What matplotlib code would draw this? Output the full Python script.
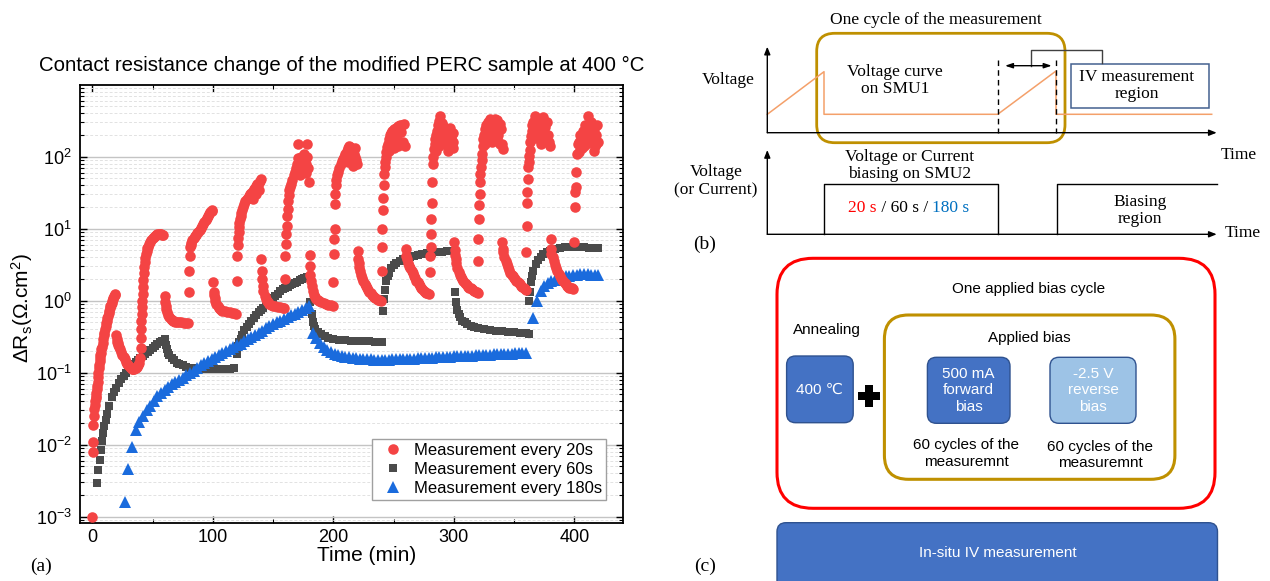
import matplotlib
matplotlib.use("Agg")
import matplotlib.pyplot as plt
import matplotlib.ticker as mticker
from matplotlib.patches import FancyBboxPatch, Rectangle
import numpy as np

plt.rcParams["font.family"] = ["Liberation Sans", "DejaVu Sans"]
plt.rcParams["mathtext.fontset"] = "custom"
plt.rcParams["mathtext.rm"] = "Liberation Sans"
plt.rcParams["mathtext.it"] = "Liberation Sans:italic"
plt.rcParams["mathtext.bf"] = "Liberation Sans:bold"
plt.rcParams["axes.unicode_minus"] = False

# ---------------------------------------------------------------- data
# Measurement every 20 s (forward / reverse bias cycles of 20 min)
red_time = [
    # 0-20 forward
    0.0, 0.33, 0.67, 1.0, 1.33, 1.67, 2.0, 2.33, 2.67, 3.0, 3.33, 3.67, 4.0, 4.33, 4.67, 5.0,
    5.33, 5.67, 6.0, 6.33, 6.67, 7.0, 7.5, 8.0, 8.5, 9.0, 9.5, 10.0, 10.5, 11.0, 11.5, 12.0,
    12.5, 13.0, 13.5, 14.0, 14.5, 15.0, 15.5, 16.0, 16.5, 17.0, 17.5, 18.0, 18.5, 19.0,
    # 20-40 reverse
    20.0, 20.33, 20.67, 21.0, 21.5, 22.0, 23.0, 24.0, 25.0, 26.0, 27.0, 28.0, 29.0, 30.0,
    31.0, 32.0, 33.0, 34.0, 35.0, 36.0, 37.0, 38.0, 39.0,
    # 40-60 forward
    40.0, 40.2, 40.4, 40.6, 40.8, 41.0, 41.2, 41.4, 41.7, 42.0, 42.4, 42.8, 43.2, 43.6, 44.0,
    44.5, 45.0, 45.5, 46.0, 47.0, 48.0, 49.0, 50.0, 51.0, 52.0, 53.0, 54.0, 55.0, 56.0, 57.0,
    58.0, 59.0,
    # 60-80 reverse
    60.3, 60.7, 61.0, 61.5, 62.0, 63.0, 64.0, 65.0, 66.0, 67.0, 68.0, 69.0, 70.0, 72.0, 74.0,
    76.0, 78.0, 79.5,
    # 80-100 forward
    80.0, 80.33, 80.67, 81.0, 81.5, 82.0, 83.0, 84.0, 85.0, 86.0, 87.0, 88.0, 89.0, 90.0, 91.0,
    92.0, 93.0, 94.0, 95.0, 96.0, 97.0, 98.0, 99.0, 99.7,
    # 100-120 reverse
    100.3, 100.7, 101.0, 101.5, 102.0, 103.0, 104.0, 105.0, 106.0, 107.0, 108.0, 110.0, 112.0,
    114.0, 116.0, 118.0, 119.5,
    # 120-140 forward
    120.0, 120.33, 120.67, 121.0, 121.33, 121.67, 122.0, 122.5, 123.0, 123.5, 124.0, 125.0,
    126.0, 127.0, 128.0, 129.0, 130.0, 131.0, 132.0, 133.0, 134.0, 135.0, 136.0, 137.0, 138.0,
    139.0, 140.0, 133.0, 136.0, 138.5,
    # 140-160 reverse
    140.3, 140.67, 141.0, 141.5, 142.0, 143.0, 144.0, 145.0, 146.0, 147.0, 148.0, 150.0, 152.0,
    154.0, 156.0, 158.0, 159.5,
    # 160-180 forward
    160.0, 160.33, 160.67, 161.0, 161.33, 161.67, 162.0, 162.5, 163.0, 163.5, 164.0, 165.0,
    166.0, 167.0, 168.0, 169.0, 170.0, 170.5, 171.0, 172.0, 173.0, 174.0, 175.0, 176.0, 177.0,
    178.0, 178.5, 179.0, 179.5, 172.5, 175.5, 177.5,
    # 180-200 reverse
    180.3, 180.67, 181.0, 181.5, 182.0, 183.0, 184.0, 185.0, 186.0, 187.0, 188.0, 190.0, 192.0,
    194.0, 196.0, 198.0, 199.5,
    # 200-220 forward
    200.0, 200.33, 200.67, 201.0, 201.33, 201.67, 202.0, 202.5, 203.0, 204.0, 205.0, 206.0,
    207.0, 208.0, 209.0, 210.0, 211.0, 212.0, 213.0, 214.0, 215.0, 216.0, 217.0, 218.0, 219.0,
    219.5, 212.0, 214.0, 216.0, 218.0,
    # 220-240 reverse
    220.3, 220.67, 221.0, 221.5, 222.0, 223.0, 224.0, 225.0, 226.0, 227.0, 228.0, 229.0, 230.0,
    231.0, 232.0, 233.0, 234.0, 235.0, 236.0, 237.0, 238.0, 239.5,
    # 240-260 forward
    240.0, 240.33, 240.67, 241.0, 241.33, 241.67, 242.0, 242.5, 243.0, 243.5, 244.0, 244.5,
    245.0, 246.0, 247.0, 248.0, 249.0, 250.0, 251.0, 252.0, 253.0, 254.0, 255.0, 256.0, 257.0,
    258.0, 259.0, 259.5, 246.0, 248.0, 250.0, 252.0, 254.0,
    # 260-280 reverse
    260.3, 260.67, 261.0, 262.0, 263.0, 264.0, 265.0, 266.0, 267.0, 268.0, 269.0, 270.0, 271.0,
    272.0, 273.0, 274.0, 275.0, 276.0, 277.0, 278.0, 279.0,
    # 280-300 forward
    280.0, 280.33, 280.67, 281.0, 281.33, 281.67, 282.0, 282.5, 283.0, 283.5, 284.0, 284.5,
    285.0, 286.0, 287.0, 288.0, 288.5, 289.0, 290.0, 291.0, 292.0, 293.0, 294.0, 295.0, 296.0,
    297.0, 298.0, 299.0, 299.7, 285.5, 287.5, 289.5, 291.5, 293.5, 295.5, 297.5, 299.3,
    # 300-320 reverse
    300.3, 300.67, 301.0, 301.5, 302.0, 303.0, 304.0, 305.0, 306.0, 307.0, 308.0, 309.0, 310.0,
    311.0, 312.0, 313.0, 314.0, 315.0, 316.0, 317.0, 318.0, 319.0, 319.7,
    # 320-340 forward
    320.0, 320.33, 320.67, 321.0, 321.33, 321.67, 322.0, 322.5, 323.0, 323.5, 324.0, 324.5,
    325.0, 326.0, 327.0, 328.0, 329.0, 330.0, 331.0, 332.0, 333.0, 334.0, 335.0, 336.0, 337.0,
    338.0, 339.0, 340.0, 340.5, 326.0, 328.0, 330.0, 332.0, 334.0, 336.0, 338.0,
    # 340-360 reverse
    340.3, 340.67, 341.0, 342.0, 343.0, 344.0, 345.0, 346.0, 347.0, 348.0, 349.0, 350.0, 351.0,
    352.0, 353.0, 354.0, 355.0, 356.0, 357.0, 358.0, 359.0, 359.7,
    # 360-380 forward
    360.0, 360.33, 360.67, 361.0, 361.33, 361.67, 362.0, 362.5, 363.0, 363.5, 364.0, 364.5,
    365.0, 366.0, 367.0, 368.0, 369.0, 370.0, 371.0, 372.0, 373.0, 374.0, 375.0, 376.0, 377.0,
    378.0, 379.0, 379.7, 366.0, 368.0, 370.0, 372.0, 374.0, 376.0,
    # 380-400 reverse
    380.3, 380.67, 381.0, 382.0, 383.0, 384.0, 385.0, 386.0, 387.0, 388.0, 389.0, 390.0, 391.0,
    392.0, 393.0, 394.0, 395.0, 396.0, 397.0, 398.0, 399.0,
    # 400-420 forward
    400.0, 400.33, 400.67, 401.0, 401.33, 402.0, 403.0, 404.0, 405.0, 406.0, 407.0, 408.0,
    409.0, 410.0, 411.0, 412.0, 413.0, 414.0, 415.0, 416.0, 417.0, 418.0, 419.0, 419.5,
    404.0, 406.0, 408.0, 410.0, 412.0, 414.0, 416.0, 418.0,
]
red_dr = [
    0.001, 0.008, 0.011, 0.019, 0.025, 0.031, 0.036, 0.040, 0.044, 0.048, 0.053, 0.060, 0.066,
    0.074, 0.086, 0.10, 0.115, 0.128, 0.145, 0.16, 0.175, 0.19, 0.21, 0.23, 0.26, 0.29, 0.33,
    0.36, 0.40, 0.44, 0.49, 0.53, 0.57, 0.62, 0.67, 0.72, 0.78, 0.83, 0.88, 0.93, 0.98, 1.04,
    1.10, 1.15, 1.20, 1.25,
    0.33, 0.29, 0.27, 0.26, 0.245, 0.23, 0.21, 0.193, 0.178, 0.165, 0.153, 0.143, 0.134, 0.127,
    0.121, 0.116, 0.113, 0.112, 0.113, 0.116, 0.121, 0.128, 0.138,
    0.16, 0.22, 0.30, 0.40, 0.52, 0.66, 0.82, 1.0, 1.25, 1.55, 1.95, 2.4, 2.9, 3.4, 3.9, 4.4,
    4.9, 5.3, 5.6, 6.1, 6.6, 7.0, 7.4, 7.7, 7.9, 8.1, 8.3, 8.4, 8.4, 8.3, 8.2, 8.1,
    1.15, 0.95, 0.85, 0.76, 0.70, 0.63, 0.59, 0.56, 0.54, 0.53, 0.52, 0.51, 0.505, 0.50, 0.50,
    0.495, 0.49, 0.485,
    1.3, 2.6, 4.2, 5.6, 6.0, 6.4, 6.9, 7.3, 7.8, 8.2, 8.6, 9.0, 9.6, 10.2, 10.9, 11.6, 12.4,
    13.2, 14.0, 15.0, 15.8, 16.8, 17.6, 18.0,
    1.8, 1.3, 1.2, 1.1, 1.0, 0.9, 0.84, 0.80, 0.77, 0.75, 0.73, 0.71, 0.70, 0.69, 0.68, 0.67,
    0.66,
    1.9, 4.2, 6.0, 7.5, 9.0, 10.5, 12.0, 13.5, 15.0, 16.5, 18.0, 20.0, 22.0, 24.0, 25.5, 27.0,
    28.5, 30.0, 31.5, 33.0, 35.0, 37.0, 39.0, 41.0, 43.0, 46.0, 49.0, 26.0, 30.0, 34.0,
    3.8, 2.6, 2.0, 1.6, 1.35, 1.15, 1.05, 1.0, 0.95, 0.91, 0.88, 0.85, 0.83, 0.82, 0.81, 0.80,
    0.80,
    2.0, 4.2, 6.1, 8.4, 11.0, 15.0, 19.0, 24.0, 29.0, 34.0, 38.0, 42.0, 47.0, 55.0, 62.0, 70.0,
    80.0, 150.0, 95.0, 85.0, 100.0, 75.0, 90.0, 110.0, 60.0, 150.0, 100.0, 70.0, 45.0, 55.0,
    65.0, 80.0,
    4.3, 3.0, 2.3, 1.9, 1.6, 1.35, 1.2, 1.12, 1.07, 1.03, 1.0, 0.96, 0.93, 0.90, 0.88, 0.86,
    0.85,
    1.8, 4.4, 7.2, 10.0, 22.0, 30.0, 40.0, 48.0, 55.0, 62.0, 70.0, 78.0, 86.0, 92.0, 100.0,
    110.0, 120.0, 130.0, 140.0, 135.0, 125.0, 115.0, 110.0, 100.0, 90.0, 80.0, 85.0, 95.0, 75.0,
    130.0,
    4.9, 3.8, 3.3, 2.9, 2.6, 2.3, 2.05, 1.85, 1.7, 1.58, 1.48, 1.40, 1.32, 1.26, 1.20, 1.15,
    1.11, 1.08, 1.05, 1.03, 1.01, 1.0,
    2.6, 5.5, 10.0, 18.0, 27.0, 40.0, 58.0, 71.0, 85.0, 100.0, 115.0, 135.0, 150.0, 175.0,
    200.0, 215.0, 230.0, 240.0, 180.0, 250.0, 200.0, 265.0, 270.0, 220.0, 275.0, 160.0, 280.0,
    140.0, 120.0, 150.0, 130.0, 165.0, 140.0,
    5.2, 4.2, 3.8, 3.3, 3.0, 2.8, 2.6, 2.4, 2.2, 2.05, 1.9, 1.8, 1.7, 1.6, 1.52, 1.45, 1.38,
    1.33, 1.29, 1.26, 1.23,
    2.5, 4.2, 5.5, 8.4, 13.6, 23.0, 44.0, 79.0, 100.0, 128.0, 150.0, 177.0, 200.0, 230.0, 270.0,
    310.0, 370.0, 250.0, 290.0, 180.0, 260.0, 150.0, 230.0, 200.0, 140.0, 250.0, 180.0, 210.0,
    160.0, 120.0, 140.0, 160.0, 220.0, 200.0, 120.0, 170.0, 130.0,
    6.5, 5.0, 4.3, 3.8, 3.3, 2.8, 2.5, 2.25, 2.1, 1.97, 1.87, 1.78, 1.70, 1.63, 1.57, 1.52,
    1.48, 1.44, 1.40, 1.37, 1.34, 1.31, 1.29,
    3.6, 7.2, 13.6, 21.0, 30.0, 44.0, 58.0, 71.0, 90.0, 110.0, 140.0, 177.0, 200.0, 240.0,
    270.0, 300.0, 200.0, 330.0, 250.0, 300.0, 180.0, 330.0, 260.0, 320.0, 200.0, 280.0, 240.0,
    150.0, 128.0, 150.0, 170.0, 190.0, 160.0, 220.0, 180.0, 150.0,
    6.5, 5.2, 4.7, 4.0, 3.5, 3.2, 2.9, 2.65, 2.45, 2.3, 2.17, 2.07, 1.98, 1.90, 1.83, 1.76,
    1.69, 1.62, 1.56, 1.50, 1.44, 1.40,
    4.7, 11.0, 23.0, 32.0, 49.0, 71.0, 85.0, 102.0, 125.0, 158.0, 190.0, 230.0, 270.0, 300.0,
    370.0, 250.0, 330.0, 280.0, 200.0, 310.0, 230.0, 355.0, 180.0, 260.0, 300.0, 200.0, 160.0,
    141.0, 200.0, 180.0, 220.0, 150.0, 250.0, 190.0,
    7.2, 5.2, 4.5, 4.0, 3.5, 3.1, 2.8, 2.55, 2.35, 2.2, 2.07, 1.95, 1.85, 1.76, 1.68, 1.61,
    1.55, 1.52, 1.50, 1.48, 1.47,
    6.6, 20.0, 32.0, 38.0, 62.0, 110.0, 150.0, 115.0, 200.0, 170.0, 230.0, 140.0, 270.0, 200.0,
    370.0, 250.0, 160.0, 300.0, 180.0, 240.0, 140.0, 200.0, 270.0, 160.0,
    160.0, 130.0, 210.0, 150.0, 190.0, 220.0, 120.0, 150.0,
]

# Measurement every 60 s (cycles of 60 min)
gray_time = [
    4, 5, 6, 7, 8, 9, 10, 11, 12, 14, 16, 18, 20, 22, 24, 26, 28, 30, 32, 34, 36, 38, 40, 42,
    44, 46, 48, 50, 52, 54, 56, 58, 60,
    61, 62, 63, 64, 66, 68, 70, 72, 75, 78, 81, 84, 87, 90, 94, 98, 102, 106, 110, 114, 118,
    120, 121, 122, 123, 124, 126, 128, 130, 132, 134, 136, 138, 140, 142, 144, 146, 148, 150,
    152, 154, 156, 158, 160, 162, 164, 166, 168, 170, 172, 174, 176, 178,
    181, 182, 183, 184, 185, 187, 190, 193, 196, 200, 205, 210, 215, 220, 225, 230, 235, 240,
    241, 242, 243, 244, 245, 246, 248, 250, 252, 255, 258, 261, 264, 267, 270, 274, 278, 282,
    286, 290, 294, 298,
    301, 302, 303, 304, 305, 307, 309, 311, 314, 317, 320, 325, 330, 335, 340, 345, 350, 355,
    360, 362,
    362.5, 363.3, 364, 365, 366, 368, 370, 372, 374, 377, 380, 384, 388, 392, 396, 400, 404,
    408, 412, 416, 420,
]
gray_dr = [
    0.0029, 0.0044, 0.0062, 0.0085, 0.0112, 0.0145, 0.018, 0.022, 0.027, 0.035, 0.046, 0.054,
    0.062, 0.071, 0.081, 0.091, 0.10, 0.11, 0.12, 0.132, 0.141, 0.151, 0.162, 0.172, 0.182,
    0.195, 0.209, 0.221, 0.234, 0.251, 0.263, 0.279, 0.295,
    0.24, 0.21, 0.19, 0.178, 0.158, 0.148, 0.138, 0.132, 0.126, 0.12, 0.117, 0.115, 0.114,
    0.112, 0.112, 0.112, 0.113, 0.113, 0.114, 0.114, 0.115,
    0.18, 0.235, 0.265, 0.295, 0.33, 0.39, 0.43, 0.48, 0.53, 0.58, 0.64, 0.69, 0.74, 0.80,
    0.86, 0.93, 1.0, 1.08, 1.16, 1.25, 1.35, 1.43, 1.50, 1.57, 1.63, 1.68, 1.75, 1.83, 1.92,
    2.0, 2.08, 2.15,
    0.95, 0.65, 0.50, 0.44, 0.41, 0.37, 0.34, 0.32, 0.305, 0.295, 0.285, 0.28, 0.277, 0.275,
    0.273, 0.272, 0.27, 0.27,
    0.71, 1.05, 1.4, 1.9, 2.2, 2.45, 2.85, 3.1, 3.3, 3.55, 3.75, 3.9, 4.05, 4.2, 4.3, 4.45,
    4.55, 4.65, 4.75, 4.8, 4.85, 4.9,
    1.3, 0.95, 0.75, 0.65, 0.59, 0.53, 0.50, 0.47, 0.45, 0.43, 0.42, 0.40, 0.39, 0.38, 0.375,
    0.37, 0.365, 0.36, 0.355, 0.35,
    1.0, 1.3, 1.8, 2.2, 2.6, 3.2, 3.7, 4.1, 4.4, 4.7, 4.95, 5.2, 5.4, 5.5, 5.55, 5.55, 5.55,
    5.5, 5.45, 5.4, 5.35,
]

# Measurement every 180 s (cycles of 180 min)
blue_time = [
    27, 30, 33, 36, 39, 42, 45, 48, 51, 54, 57, 60, 63, 66, 69, 72, 75, 78, 81, 84, 87, 90, 93,
    96, 99, 102, 105, 108, 111, 114, 117, 120, 123, 126, 129, 132, 135, 138, 141, 144, 147, 150,
    153, 156, 159, 162, 165, 168, 171, 174, 177, 180,
    183, 186, 189, 192, 195, 198, 201, 204, 207, 210, 213, 216, 219, 222, 225, 228, 231, 234,
    237, 240, 243, 246, 249, 252, 255, 258, 261, 264, 267, 270, 273, 276, 279, 282, 285, 288,
    291, 294, 297, 300, 303, 306, 309, 312, 315, 318, 321, 324, 327, 330, 333, 336, 339, 342,
    345, 348, 351, 354, 357, 360,
    366, 369, 372, 375, 378, 381, 384, 387, 390, 393, 396, 399, 402, 405, 408, 411, 414, 417,
    420,
]
blue_dr = [
    0.0016, 0.0046, 0.0093, 0.0158, 0.0204, 0.0251, 0.030, 0.0347, 0.0407, 0.0468, 0.0525,
    0.0575, 0.063, 0.069, 0.074, 0.079, 0.085, 0.093, 0.10, 0.107, 0.117, 0.126, 0.135, 0.145,
    0.155, 0.166, 0.178, 0.19, 0.202, 0.214, 0.226, 0.24, 0.254, 0.272, 0.292, 0.313, 0.335,
    0.359, 0.385, 0.417, 0.447, 0.473, 0.50, 0.525, 0.556, 0.59, 0.624, 0.66, 0.70, 0.74, 0.79,
    0.85,
    0.36, 0.30, 0.255, 0.225, 0.205, 0.192, 0.182, 0.175, 0.17, 0.166, 0.163, 0.16, 0.158,
    0.156, 0.155, 0.154, 0.153, 0.152, 0.152, 0.152, 0.152, 0.152, 0.153, 0.153, 0.154, 0.155,
    0.155, 0.156, 0.157, 0.158, 0.159, 0.16, 0.161, 0.162, 0.163, 0.164, 0.165, 0.166, 0.167,
    0.168, 0.169, 0.17, 0.171, 0.172, 0.173, 0.174, 0.175, 0.176, 0.177, 0.178, 0.179, 0.18,
    0.181, 0.182, 0.183, 0.184, 0.185, 0.186, 0.187, 0.188,
    0.58, 1.0, 1.38, 1.6, 1.75, 1.85, 1.95, 2.03, 2.1, 2.17, 2.22, 2.27, 2.3, 2.33, 2.33, 2.32,
    2.3, 2.28, 2.27,
]

series_labels = ["Measurement every 20s", "Measurement every 60s", "Measurement every 180s"]
x_ticks = [0, 100, 200, 300, 400]

RED = "#F44444"
GRAY = "#4B4B4B"
BLUE = "#1A6BDD"

# ---------------------------------------------------------------- figure
W, H = 1270, 581
fig = plt.figure(figsize=(W / 100, H / 100), dpi=100)

ax = fig.add_axes([80 / W, (H - 523) / H, 543 / W, 438 / H])
ax.set_yscale("log")
ax.set_xlim(-10.2, 440.4)
ax.set_ylim(8.2e-4, 985)

h_gray, = ax.plot(gray_time, gray_dr, ls="none", marker="s", ms=6.0, mew=0,
                  color=GRAY, zorder=3)
h_blue, = ax.plot(blue_time, blue_dr, ls="none", marker="^", ms=8.0, mew=0,
                  color=BLUE, zorder=4)
h_red, = ax.plot(red_time, red_dr, ls="none", marker="o", ms=7.6, mew=0,
                 color=RED, zorder=5)

ax.set_xticks(x_ticks)
ax.xaxis.set_minor_locator(mticker.MultipleLocator(50))
ax.yaxis.set_major_locator(mticker.LogLocator(base=10, numticks=20))
ax.yaxis.set_minor_locator(mticker.LogLocator(base=10, subs=np.arange(2, 10), numticks=20))
ax.yaxis.set_minor_formatter(mticker.NullFormatter())

ax.set_axisbelow(True)
ax.yaxis.grid(True, which="major", color="#C4C4C4", lw=1.0)
ax.yaxis.grid(True, which="minor", color="#E2E2E2", lw=0.7, ls=(0, (3, 2)))
ax.xaxis.grid(False)

ax.tick_params(which="both", direction="in", top=True, right=True, labelsize=13)
ax.tick_params(which="major", length=5, width=1.0)
ax.tick_params(which="minor", length=3, width=0.8)
ax.tick_params(axis="x", pad=4.5)
ax.tick_params(axis="y", pad=6)
for s in ax.spines.values():
    s.set_linewidth(1.3)

ax.set_xlabel("Time (min)", fontsize=15)
ax.xaxis.set_label_coords(0.527, -0.052)
ax.set_ylabel("ΔR$_\\mathregular{s}$(Ω.cm$^\\mathregular{2}$)", fontsize=15)
ax.yaxis.set_label_coords(-0.083, 0.49)

ax.set_title("Contact resistance change of the modified PERC sample at 400 °C",
             fontsize=14.7, pad=10, x=0.4816)

leg = ax.legend([h_red, h_gray, h_blue], series_labels, loc="lower right",
                bbox_to_anchor=(0.969, 0.052), borderaxespad=0, fontsize=12,
                fancybox=False, framealpha=1, edgecolor="#A0A0A0", numpoints=1,
                handlelength=2.0, handletextpad=0.25, labelspacing=0.25,
                borderpad=0.25)
leg.get_frame().set_linewidth(1.0)

# ---------------------------------------------------------------- diagrams (b) and (c)
ov = fig.add_axes([0, 0, 1, 1])
ov.set_xlim(0, W)
ov.set_ylim(H, 0)
ov.axis("off")

SERIF = ["Liberation Serif", "DejaVu Serif"]
SANS = ["Liberation Sans", "DejaVu Sans"]
ORANGE = "#F4A06A"
GOLD = "#BF9000"
BOX_BLUE = "#4472C4"
BOX_EDGE = "#2F528F"
LIGHT_BLUE = "#9DC3E6"

ov.text(41, 566, "(a)", fontsize=14, family=SERIF, ha="center", va="center")
ov.text(705, 244, "(b)", fontsize=14, family=SERIF, ha="center", va="center")
ov.text(705, 566, "(c)", fontsize=14, family=SERIF, ha="center", va="center")


def arrow(x0, y0, x1, y1, lw=1.0, style="-|>,head_length=0.45,head_width=0.18"):
    ov.annotate("", xy=(x1, y1), xytext=(x0, y0),
                arrowprops=dict(arrowstyle=style, lw=lw, color="black",
                                shrinkA=0, shrinkB=0))


def rbox(x0, y0, x1, y1, r, **kw):
    p = FancyBboxPatch((x0, y0), x1 - x0, y1 - y0,
                       boxstyle=f"round,pad=0,rounding_size={r}", **kw)
    ov.add_patch(p)
    return p


# (b) upper timeline: IV sweep on SMU1
arrow(767.3, 132.7, 767.3, 46.7)
arrow(767.3, 132.7, 1216.7, 132.7)
ov.plot([767.3, 824, 824, 997.7, 1056, 1056, 1211.7],
        [114.3, 71.7, 114.3, 114.3, 71.0, 114.3, 114.3], color=ORANGE, lw=1.1)
for xv in (997.7, 1056):
    ov.plot([xv, xv], [60, 132.7], color="black", lw=1.0, ls=(0, (4, 3)))
ov.annotate("", xy=(1051.7, 65.7), xytext=(1005, 65.7),
            arrowprops=dict(arrowstyle="<|-|>,head_length=0.45,head_width=0.15",
                            lw=1.0, color="black", shrinkA=0, shrinkB=0))
ov.plot([1031, 1031, 1102.3, 1102.3], [65.7, 50, 50, 63.3], color="#404040", lw=1.0)
ov.add_patch(Rectangle((1071, 64.3), 138.3, 44, fill=False, ec="#44608F", lw=1.1))
ov.text(1137, 85.5, "IV measurement\nregion", fontsize=12.5, family=SERIF,
        ha="center", va="center", linespacing=1.15)
rbox(816.7, 33.3, 1065, 142.7, 18, fill=False, ec=GOLD, lw=2.0)
ov.text(936, 20, "One cycle of the measurement", fontsize=12.5, family=SERIF,
        ha="center", va="center")
ov.text(728, 80, "Voltage", fontsize=12.5, family=SERIF, ha="center", va="center")
ov.text(895, 80.5, "Voltage curve\non SMU1", fontsize=12.5, family=SERIF,
        ha="center", va="center", linespacing=1.15)
ov.text(1238.7, 155, "Time", fontsize=12.5, family=SERIF, ha="center", va="center")

# (b) lower timeline: bias on SMU2
arrow(767.3, 234.3, 767.3, 150)
arrow(767.3, 234.3, 1216.7, 234.3)
ov.plot([824, 824, 997.7, 997.7], [234.3, 184.3, 184.3, 234.3], color="black", lw=1.0)
ov.plot([1057.3, 1057.3, 1216.7], [234.3, 184.3, 184.3], color="black", lw=1.0)
ov.text(716, 181, "Voltage\n(or Current)", fontsize=12.5, family=SERIF,
        ha="center", va="center", linespacing=1.15)
ov.text(910, 165.5, "Voltage or Current\nbiasing on SMU2", fontsize=12.5, family=SERIF,
        ha="center", va="center", linespacing=1.15)
ov.text(1140, 210.5, "Biasing\nregion", fontsize=12.5, family=SERIF,
        ha="center", va="center", linespacing=1.15)
ov.text(1242.5, 233.3, "Time", fontsize=12.5, family=SERIF, ha="center", va="center")

pieces = [("20 s", "#FF0000"), (" / 60 s / ", "black"), ("180 s", "#0070C0")]
parts = [ov.text(0, 208.3, s, color=c, fontsize=12.5, family=SERIF, ha="left",
                 va="center") for s, c in pieces]
fig.canvas.draw()
renderer = fig.canvas.get_renderer()
widths = [p.get_window_extent(renderer).width for p in parts]
xcur = 909 - sum(widths) / 2
for p, w in zip(parts, widths):
    p.set_x(xcur)
    xcur += w

# (c) applied bias cycle
rbox(777, 258.3, 1215, 508.3, 36, fill=False, ec="#FF0000", lw=2.2)
ov.text(1028.3, 289.3, "One applied bias cycle", fontsize=11, family=SANS,
        ha="center", va="center")
ov.text(827, 330, "Annealing", fontsize=11, family=SANS, ha="center", va="center")
rbox(786.6, 356, 853.2, 422.7, 9, fc=BOX_BLUE, ec=BOX_EDGE, lw=1.0)
ov.text(819.7, 390, "400 ℃", fontsize=11, family=SANS, color="white",
        ha="center", va="center")
ov.plot([868.5], [395.5], marker="P", ms=16, color="black", mew=0)
rbox(884.4, 315, 1174.9, 479.3, 24, fill=False, ec=GOLD, lw=2.2)
ov.text(1029.5, 338.3, "Applied bias", fontsize=11, family=SANS, ha="center", va="center")
rbox(927.4, 357.3, 1010, 423.3, 9, fc=BOX_BLUE, ec=BOX_EDGE, lw=1.0)
ov.text(968.5, 390.5, "500 mA\nforward\nbias", fontsize=11, family=SANS, color="white",
        ha="center", va="center", linespacing=1.2)
rbox(1050, 357.3, 1136, 423.3, 9, fc=LIGHT_BLUE, ec=BOX_EDGE, lw=1.0)
ov.text(1093, 390.5, "-2.5 V\nreverse\nbias", fontsize=11, family=SANS, color="white",
        ha="center", va="center", linespacing=1.2)
ov.text(966.3, 453.5, "60 cycles of the\nmeasuremnt", fontsize=11, family=SANS,
        ha="center", va="center", linespacing=1.2)
ov.text(1100, 455, "60 cycles of the\nmeasuremnt", fontsize=11, family=SANS,
        ha="center", va="center", linespacing=1.2)
rbox(777, 522.7, 1217.5, 600, 9, fc=BOX_BLUE, ec=BOX_EDGE, lw=1.0)
ov.text(997.9, 552.7, "In-situ IV measurement", fontsize=11, family=SANS, color="white",
        ha="center", va="center")

fig.savefig("out.png", dpi=100)
